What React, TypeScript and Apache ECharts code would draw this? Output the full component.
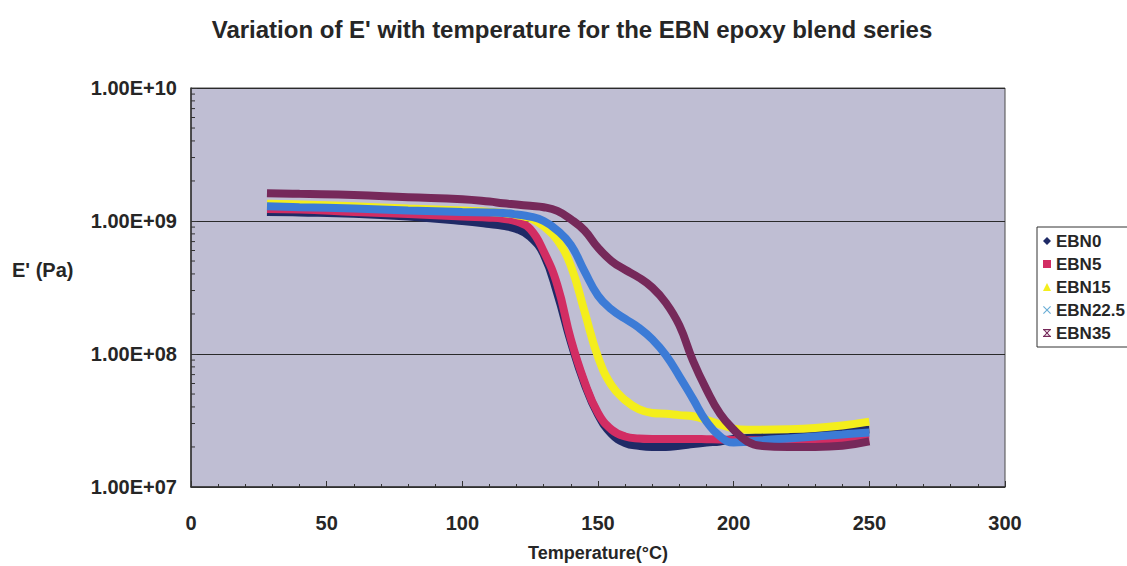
import React, { useEffect, useRef } from "react";
import * as echarts from "echarts";

// Temperature (°C) sampling points
const TEMPS: number[] = [
  28, 40, 60, 80, 100, 110, 115, 120, 125, 130, 135, 140, 145, 150, 155,
  160, 165, 170, 175, 180, 185, 190, 195, 200, 205, 210, 220, 230, 240, 250,
];
// Storage modulus E' (Pa) for each blend
const EBN0: number[] = [
  1.17e9, 1.16e9, 1.135e9, 1.08e9, 1.0e9, 9.5e8, 9.2e8, 8.7e8, 7.6e8, 5.6e8, 2.85e8, 1.23e8, 6.0e7, 3.5e7, 2.5e7,
  2.14e7, 2.04e7, 2.0e7, 2.0e7, 2.04e7, 2.1e7, 2.16e7, 2.2e7, 2.3e7, 2.34e7, 2.4e7, 2.5e7, 2.57e7, 2.63e7, 2.7e7,
];
const EBN5: number[] = [
  1.23e9, 1.22e9, 1.17e9, 1.13e9, 1.08e9, 1.06e9, 1.04e9, 9.9e8, 8.7e8, 5.9e8, 3.3e8, 1.29e8, 6.2e7, 3.6e7, 2.7e7,
  2.4e7, 2.32e7, 2.3e7, 2.3e7, 2.3e7, 2.3e7, 2.29e7, 2.28e7, 2.26e7, 2.25e7, 2.24e7, 2.22e7, 2.22e7, 2.24e7, 2.26e7,
];
const EBN15: number[] = [
  1.35e9, 1.33e9, 1.29e9, 1.24e9, 1.2e9, 1.17e9, 1.15e9, 1.11e9, 1.05e9, 9.1e8, 7.2e8, 4.6e8, 2.1e8, 9.5e7, 5.8e7,
  4.5e7, 3.85e7, 3.6e7, 3.55e7, 3.47e7, 3.4e7, 3.2e7, 2.95e7, 2.75e7, 2.7e7, 2.7e7, 2.72e7, 2.78e7, 2.9e7, 3.1e7,
];
const EBN22_5: number[] = [
  1.29e9, 1.27e9, 1.24e9, 1.2e9, 1.17e9, 1.16e9, 1.15e9, 1.12e9, 1.08e9, 1.0e9, 8.5e8, 6.6e8, 4.2e8, 2.75e8, 2.16e8,
  1.84e8, 1.58e8, 1.29e8, 9.8e7, 6.8e7, 4.6e7, 3.1e7, 2.4e7, 2.16e7, 2.19e7, 2.24e7, 2.32e7, 2.4e7, 2.48e7, 2.57e7,
];
const EBN35: number[] = [
  1.62e9, 1.6e9, 1.57e9, 1.51e9, 1.46e9, 1.4e9, 1.36e9, 1.33e9, 1.3e9, 1.27e9, 1.19e9, 1.03e9, 8.5e8, 6.3e8, 5.0e8,
  4.3e8, 3.76e8, 3.16e8, 2.43e8, 1.64e8, 8.9e7, 5.4e7, 3.55e7, 2.7e7, 2.2e7, 2.04e7, 2.0e7, 2.0e7, 2.04e7, 2.2e7,
];

const SERIES_NAMES = ["EBN0", "EBN5", "EBN15", "EBN22.5", "EBN35"];
const SERIES_DATA = [EBN0, EBN5, EBN15, EBN22_5, EBN35];
const SERIES_COLORS = ["#1f2a66", "#d22d63", "#f4ee1c", "#3c7bd6", "#76295a"];
const LEGEND_COLORS = ["#1f2a66", "#d22d63", "#f4ee1c", "#6aaed6", "#76295a"];

// Log minor tick positions
const MINOR_Y_TICKS: number[] = [
  2e7, 3e7, 4e7, 5e7, 6e7, 7e7, 8e7, 9e7,
  2e8, 3e8, 4e8, 5e8, 6e8, 7e8, 8e8, 9e8,
  2e9, 3e9, 4e9, 5e9, 6e9, 7e9, 8e9, 9e9,
];

const X_ICON = "path://M0,1L1,0L5,4L9,0L10,1L6,5L10,9L9,10L5,6L1,10L0,9L4,5Z";
const X_BAR_ICON =
  "path://M0,0L10,0L10,1.6L0,1.6Z M0,8.4L10,8.4L10,10L0,10Z M1,1.6L2.6,1.6L5,4L7.4,1.6L9,1.6L6,5L9,8.4L7.4,8.4L5,6L2.6,8.4L1,8.4L4,5Z";
const LEGEND_ICONS = ["diamond", "rect", "triangle", X_ICON, X_BAR_ICON];

const FONT = "'Liberation Sans', Arial, sans-serif";
const TXT = "#262626";

function fmtExp(v: number): string {
  const e = Math.round(Math.log10(v));
  const m = v / Math.pow(10, e);
  return m.toFixed(2) + "E+" + (e < 10 ? "0" + e : String(e));
}

export default function App() {
  const ref = useRef<HTMLDivElement>(null);
  useEffect(() => {
    if (!ref.current) return;
    const chart = echarts.init(ref.current, undefined, { renderer: "svg" });
    const lineSeries = SERIES_NAMES.map((name, i) => ({
      name,
      type: "line",
      data: TEMPS.map((t, j) => [t, SERIES_DATA[i][j]]),
      smooth: 0.45,
      showSymbol: false,
      symbol: "none",
      color: SERIES_COLORS[i],
      lineStyle: { color: SERIES_COLORS[i], width: 8 },
      z: 3 + i,
    }));
    chart.setOption({
      animation: false,
      backgroundColor: "#ffffff",
      textStyle: { fontFamily: FONT },
      title: {
        text: "Variation of E' with temperature for the EBN epoxy blend series",
        left: 567,
        top: 12,
        textAlign: "center",
        textStyle: { fontFamily: FONT, fontWeight: "bold", fontSize: 24, color: TXT },
      },
      grid: {
        left: 191,
        right: 1127 - 1005,
        top: 88,
        bottom: 566 - 487,
        containLabel: false,
        outerBoundsMode: "none",
        show: true,
        backgroundColor: "#bfbed3",
        borderColor: "#4a4a4a",
        borderWidth: 1,
      },
      legend: {
        orient: "vertical",
        left: 1037,
        top: 227,
        padding: [5, 40, 5, 6],
        itemGap: 5,
        itemWidth: 8,
        itemHeight: 8,
        borderColor: "#333",
        borderWidth: 1,
        backgroundColor: "#ffffff",
        textStyle: { fontFamily: FONT, fontWeight: "bold", fontSize: 17, color: TXT, lineHeight: 18 },
        data: SERIES_NAMES.map((name, i) => ({
          name,
          icon: LEGEND_ICONS[i],
          itemStyle: { color: LEGEND_COLORS[i] },
        })),
      },
      xAxis: {
        type: "value",
        min: 0,
        max: 300,
        interval: 50,
        name: "Temperature(°C)",
        nameLocation: "middle",
        nameGap: 57,
        nameTextStyle: { fontFamily: FONT, fontWeight: "bold", fontSize: 18, color: TXT },
        axisLine: { show: true, lineStyle: { color: "#333", width: 1.5 } },
        axisTick: { show: true, inside: true, length: 6, lineStyle: { color: "#333" } },
        minorTick: { show: true, splitNumber: 5, length: 3, lineStyle: { color: "#333" } },
        splitLine: { show: false },
        axisLabel: { fontFamily: FONT, fontWeight: "bold", fontSize: 20, color: TXT, margin: 26 },
      },
      yAxis: {
        type: "log",
        logBase: 10,
        min: 1e7,
        max: 1e10,
        axisLine: { show: true, lineStyle: { color: "#333", width: 1.5 } },
        axisTick: { show: true, inside: true, length: 6, lineStyle: { color: "#333" } },
        splitLine: { show: true, lineStyle: { color: "#2a2a2a", width: 1 } },
        axisLabel: {
          fontFamily: FONT,
          fontWeight: "bold",
          fontSize: 20,
          color: TXT,
          margin: 14,
          formatter: (v: number) => fmtExp(v),
        },
      },
      graphic: [
        {
          type: "text",
          left: 12,
          top: 260,
          style: { text: "E' (Pa)", font: "bold 20px " + FONT, fill: TXT },
        },
      ],
      series: [
        {
          type: "custom",
          name: "minorY",
          silent: true,
          data: MINOR_Y_TICKS.map((v) => [0, v]),
          renderItem: (params: any, api: any) => {
            const p = api.coord([0, api.value(1)]);
            return {
              type: "line",
              shape: { x1: p[0], y1: p[1], x2: p[0] + 4, y2: p[1] },
              style: { stroke: "#333", lineWidth: 1 },
            };
          },
          z: 2,
        },
        ...lineSeries,
      ],
    });
    return () => chart.dispose();
  }, []);
  return (
    <div
      ref={ref}
      style={{ position: "fixed", left: 0, top: 0, width: 1127, height: 566, background: "#fff" }}
    />
  );
}
